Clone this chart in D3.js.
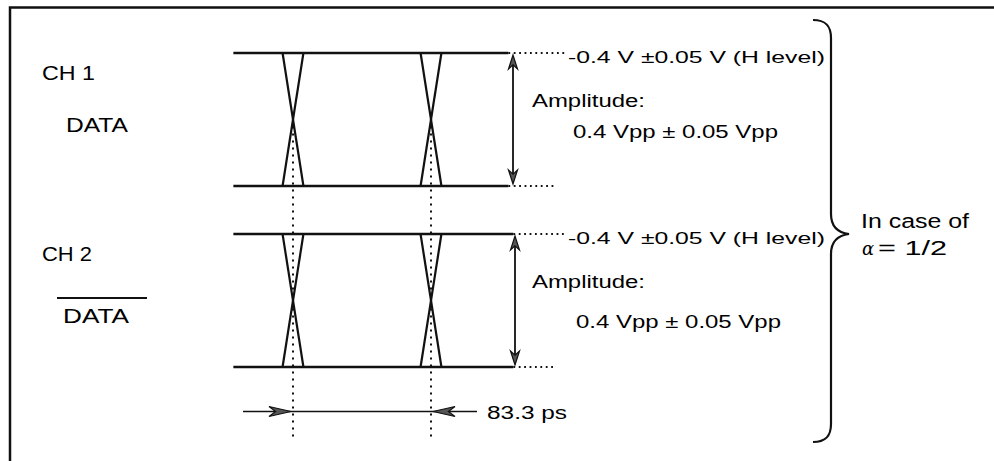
<!DOCTYPE html>
<html>
<head>
<meta charset="utf-8">
<script src="https://cdn.jsdelivr.net/npm/d3@7"></script>
<style>
  body { margin: 0; background: #fff; }
  svg text { font-family: "Liberation Sans", Arial, sans-serif; fill: #000; }
</style>
</head>
<body>
<div id="main"></div>
<script>
// data
var channels = ["CH 1", "CH 2"];
var signals = ["DATA", "DATA"];      // second one is inverted (overline)
var inverted = [false, true];
var crossTimes = [0, 83.3];          // ps, centres of the two crossings
var timeSpan = [-36, 130];           // ps, extent of the level lines
var edgeSpread = 6.3;                // ps, half width of the crossing at the rails
var highLevel = -0.4;                // V
var amplitude = 0.4;                 // Vpp
var levelText = "-0.4 V  \u00b10.05 V (H level)";
var ampText = ["Amplitude:", "0.4 Vpp \u00b1 0.05 Vpp"];
var periodText = "83.3 ps";
var caseText = ["In case of", "=  1/2"];

var width = 994, height = 461;

var svg = d3.select("#main").append("svg")
    .attr("width", width)
    .attr("height", height);

var x = d3.scaleLinear().domain(crossTimes).range([293, 431]);
var chY = d3.scalePoint().domain(channels).range([53, 234]);
var v = d3.scaleLinear().domain([highLevel, highLevel - amplitude]).range([0, 133]);

var ink = "#111";

// frame (only top and left edges show)
svg.append("path")
    .attr("d", "M10,461 L10,7.5 L994,7.5")
    .attr("fill", "none")
    .attr("stroke", ink)
    .attr("stroke-width", 2.5);

function txt(s, tx, ty, size, len) {
    var t = svg.append("text")
        .attr("x", tx).attr("y", ty)
        .style("font-size", size + "px")
        .text(s);
    if (len) t.attr("textLength", len).attr("lengthAdjust", "spacingAndGlyphs");
    return t;
}

function arrowHead(px, py, dir, len, half) {
    // tip at px,py
    var pts;
    if (dir == "up") pts = [[px, py], [px - half, py + len], [px, py + len * 0.7], [px + half, py + len]];
    if (dir == "down") pts = [[px, py], [px - half, py - len], [px, py - len * 0.7], [px + half, py - len]];
    if (dir == "right") pts = [[px, py], [px - len, py - half], [px - len * 0.7, py], [px - len, py + half]];
    if (dir == "left") pts = [[px, py], [px + len, py - half], [px + len * 0.7, py], [px + len, py + half]];
    svg.append("polygon")
        .attr("points", pts.map(function(p){ return p.join(","); }).join(" "))
        .attr("fill", "#555")
        .attr("stroke", ink)
        .attr("stroke-width", 1.2);
}

var railEnd = [x(timeSpan[1]), x(timeSpan[1]) + 5];

channels.forEach(function(ch, i) {
    var top = chY(ch);
    var yH = top + v(highLevel);
    var yL = top + v(highLevel - amplitude);
    var x1 = x(timeSpan[0]), x2 = railEnd[i];

    // level rails
    [yH, yL].forEach(function(yy) {
        svg.append("line")
            .attr("x1", x1).attr("x2", x2)
            .attr("y1", yy).attr("y2", yy)
            .attr("stroke", ink).attr("stroke-width", 2.5);
    });

    // crossings
    crossTimes.forEach(function(t) {
        var a = x(t - edgeSpread), b = x(t + edgeSpread);
        svg.append("line").attr("x1", a).attr("y1", yH).attr("x2", b).attr("y2", yL)
            .attr("stroke", ink).attr("stroke-width", 2.2);
        svg.append("line").attr("x1", b).attr("y1", yH).attr("x2", a).attr("y2", yL)
            .attr("stroke", ink).attr("stroke-width", 2.2);
    });

    // dotted leaders
    svg.append("line").attr("x1", x2).attr("x2", 566).attr("y1", yH).attr("y2", yH)
        .attr("stroke", ink).attr("stroke-width", 1.8).attr("stroke-dasharray", "1.8,3.6");
    svg.append("line").attr("x1", x2).attr("x2", 556).attr("y1", yL).attr("y2", yL)
        .attr("stroke", ink).attr("stroke-width", 1.8).attr("stroke-dasharray", "1.8,3.6");

    // amplitude double arrow
    var ax = i == 0 ? 513 : 515;
    svg.append("line").attr("x1", ax).attr("x2", ax).attr("y1", yH + 4).attr("y2", yL - 4)
        .attr("stroke", ink).attr("stroke-width", 1.8);
    arrowHead(ax, yH + 2, "up", 14, 4.5);
    arrowHead(ax, yL - 2, "down", 14, 4.5);

    // labels
    txt(ch, 42, top + 27, 21, i == 0 ? 53 : 50);
    txt(signals[i], i == 0 ? 66 : 63, top + (i == 0 ? 79 : 89), 21, i == 0 ? 62 : 66);
    if (inverted[i]) {
        svg.append("line").attr("x1", 57).attr("x2", 147)
            .attr("y1", top + 64).attr("y2", top + 64)
            .attr("stroke", ink).attr("stroke-width", 1.8);
    }

    txt(levelText, 568, yH + 10, 17, 257);
    txt(ampText[0], 532, yH + 54, 18, 113);
    txt(ampText[1], 573 + i * 3, yH + 85 + i * 9, 18, 205);
});

// dotted verticals through the crossings
crossTimes.forEach(function(t) {
    svg.append("line")
        .attr("x1", x(t)).attr("x2", x(t))
        .attr("y1", chY(channels[0]) + v(highLevel - amplitude / 2))
        .attr("y2", 437)
        .attr("stroke", ink).attr("stroke-width", 2)
        .attr("stroke-dasharray", "2,5");
});

// period dimension
var dimY = 411.5;
svg.append("line").attr("x1", x(crossTimes[0]) - 50).attr("x2", x(crossTimes[1]) + 46)
    .attr("y1", dimY).attr("y2", dimY)
    .attr("stroke", ink).attr("stroke-width", 1.5);
arrowHead(x(crossTimes[0]) - 2, dimY, "right", 22, 5);
arrowHead(x(crossTimes[1]) + 2, dimY, "left", 22, 5);
txt(periodText, 487, 419, 18, 80);

// brace
var bx = 831, tipX = 849, tipY = 234;
svg.append("path")
    .attr("d", "M813,20 C826,20 831,26 " + bx + ",38 L" + bx + "," + (tipY - 20)
        + " C" + bx + "," + (tipY - 5) + " 841," + (tipY - 1) + " " + tipX + "," + tipY
        + " C841," + (tipY + 1) + " " + bx + "," + (tipY + 5) + " " + bx + "," + (tipY + 20)
        + " L" + bx + ",424 C831,436 826,442 813,442")
    .attr("fill", "none")
    .attr("stroke", ink)
    .attr("stroke-width", 2.2);

txt(caseText[0], 861, 228, 20, 108);
svg.append("text").attr("x", 862).attr("y", 255)
    .style("font-family", "'DejaVu Serif', serif")
    .style("font-style", "italic")
    .style("font-size", "18px")
    .text("\u03b1");
txt(caseText[1], 878, 255, 20, 69);
</script>
</body>
</html>
